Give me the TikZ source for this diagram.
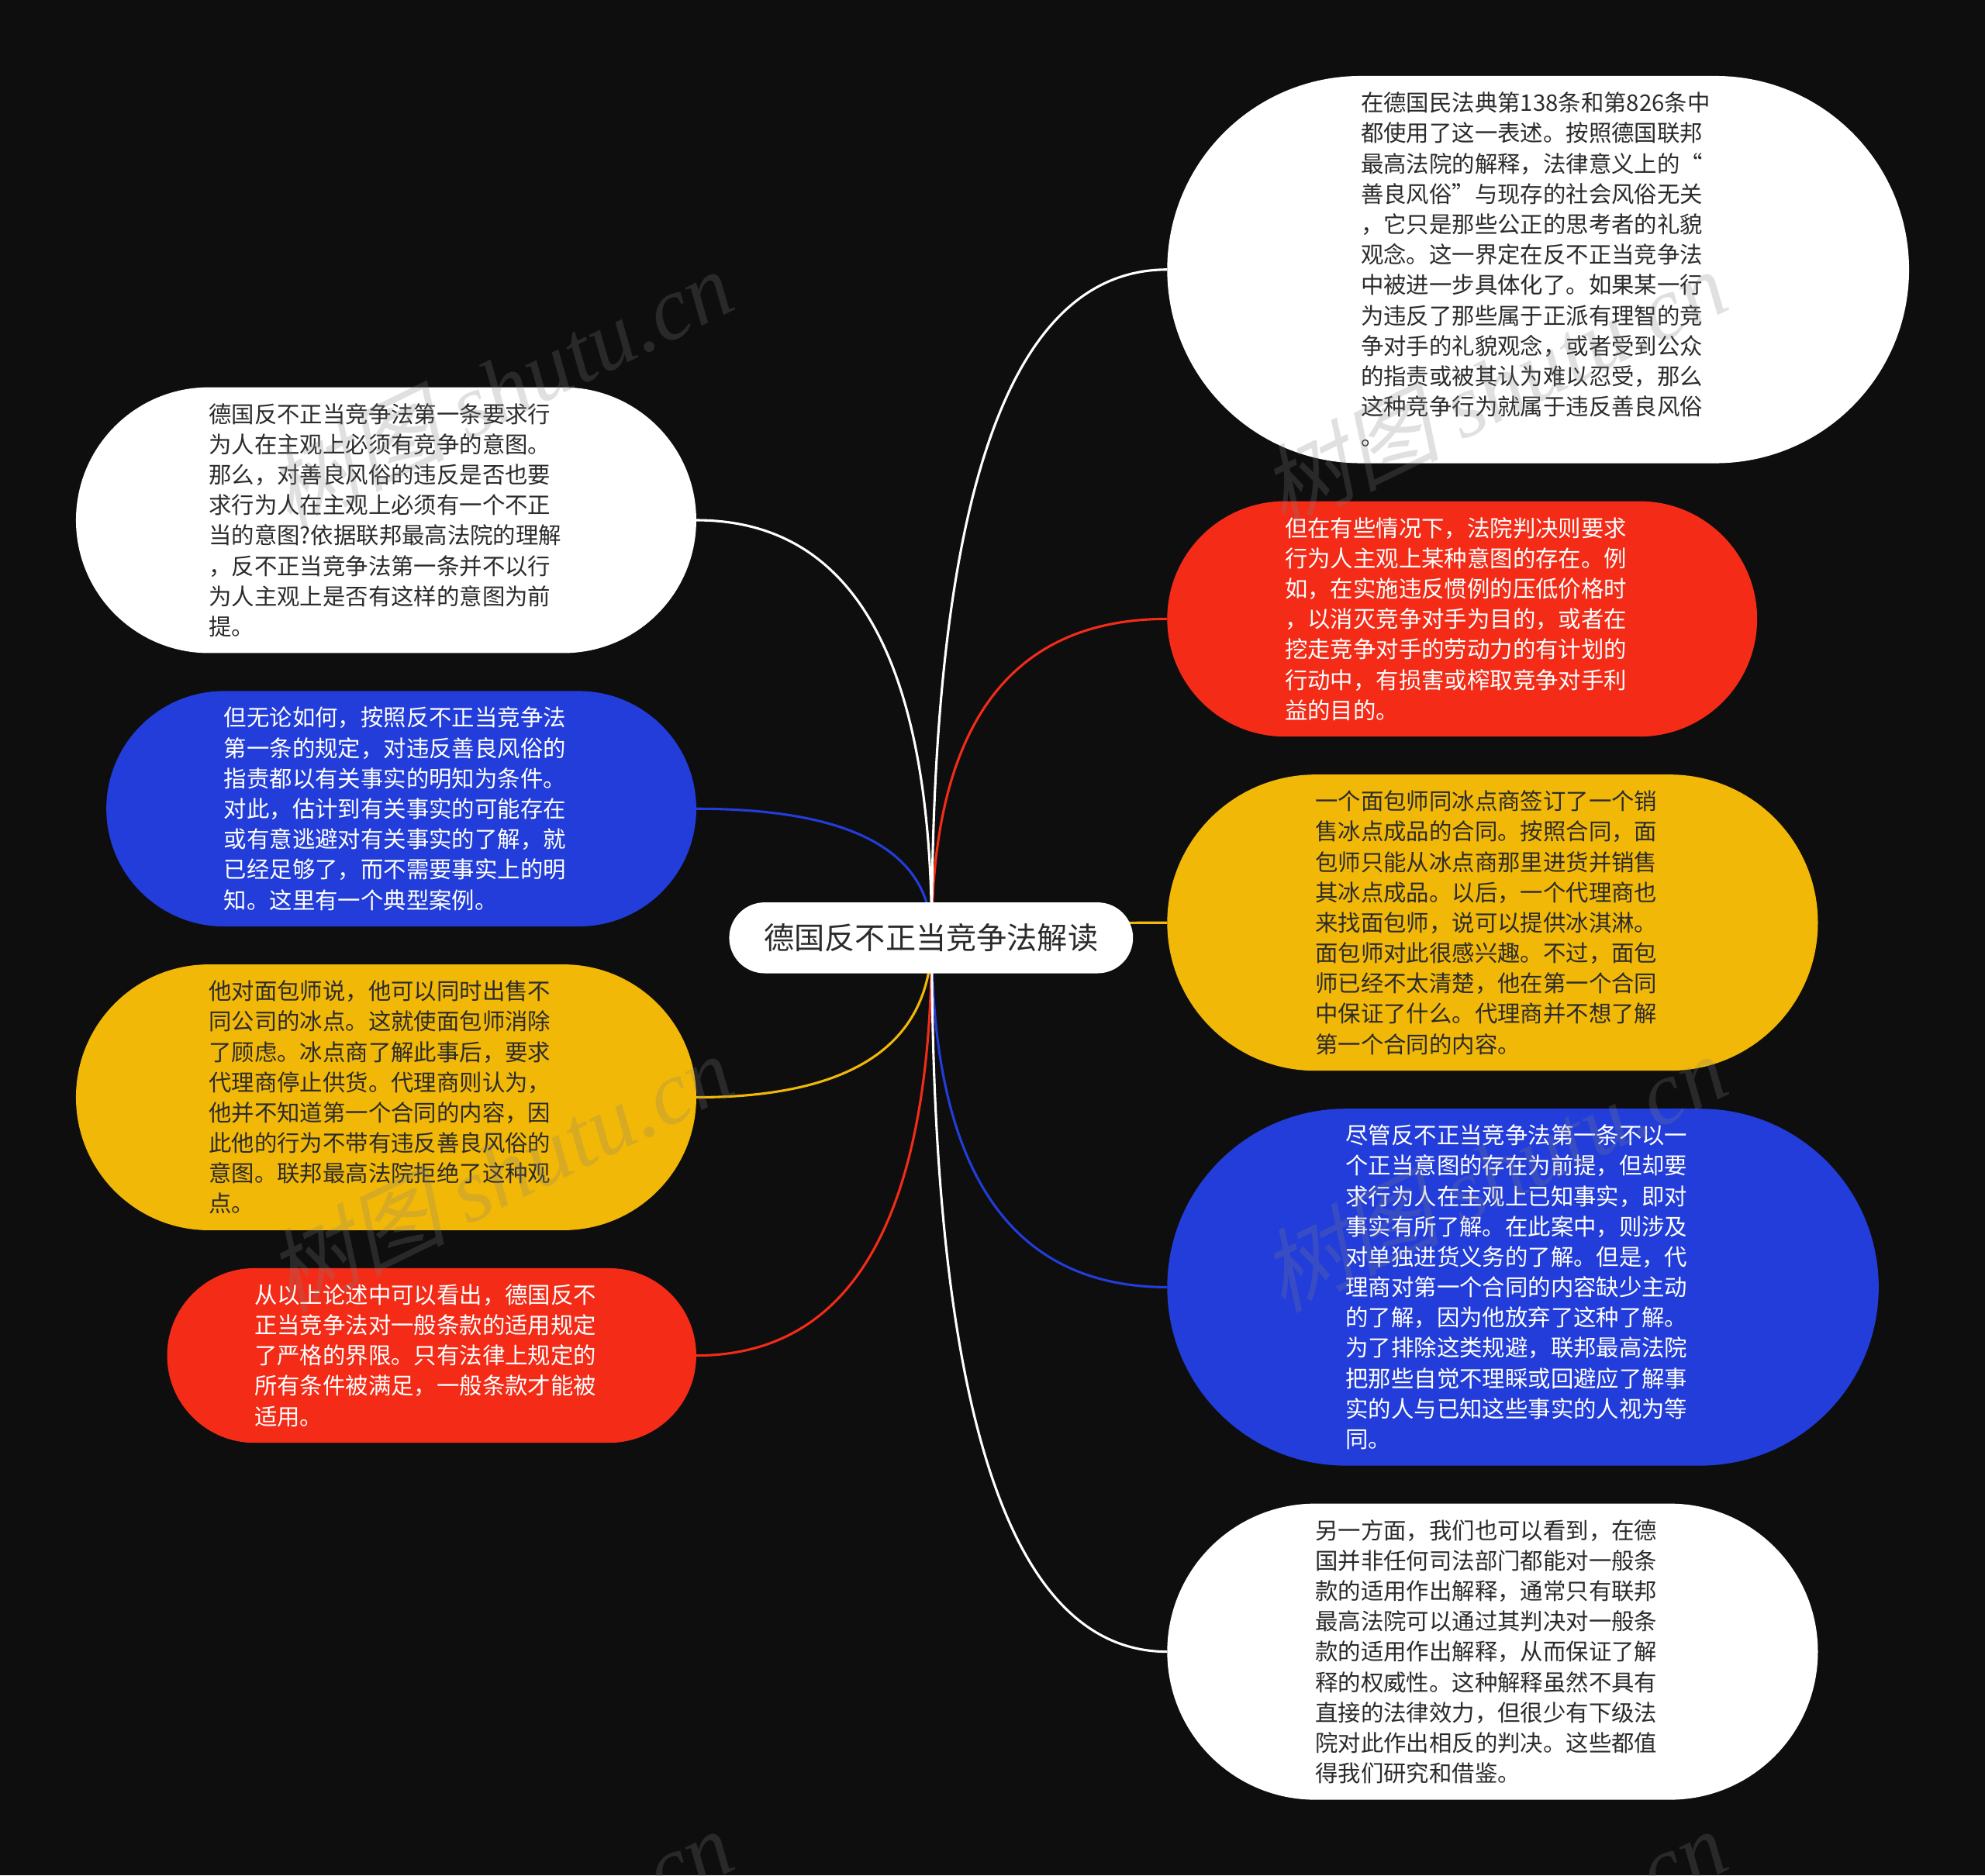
\documentclass[tikz,border=0pt]{standalone}
\usepackage{fontspec}
\setmainfont{Noto Sans CJK SC}
\newfontfamily\wmcjk[FakeSlant=0.25]{Noto Sans CJK SC}
\newfontfamily\wmlat{Liberation Serif}
\definecolor{bgc}{HTML}{0E0E0F}
\definecolor{redc}{HTML}{F32B17}
\definecolor{yelc}{HTML}{F2B807}
\definecolor{bluc}{HTML}{223DD9}
\definecolor{darkt}{HTML}{2B2B2B}
\begin{document}
\begin{tikzpicture}[x=1pt,y=-1pt,
  pill/.style n args={2}{shape=rectangle,inner sep=0pt,outer sep=0pt,align=left,
    minimum width=#1 pt,minimum height=#2 pt,text width={(#1-#2)*1pt},rounded corners={#2*0.5pt},
    font=\fontsize{18}{24}\selectfont},
  whitepill/.style={fill=white,text=darkt},
  redpill/.style={fill=redc,text=white},
  yelpill/.style={fill=yelc,text=darkt},
  blupill/.style={fill=bluc,text=white},
  link/.style={line width=1.9pt},
  wmark/.style={rotate=26,text=gray,text opacity=0.24,inner sep=0pt,font=\fontsize{71}{73}\selectfont}
]
\fill[bgc] (0,0) rectangle (1568,1481.66);
\useasboundingbox (0,0) rectangle (1568,1481.66);

\node[pill={586}{306},whitepill] (r1) at (1215,213) {在德国民法典第138条和第826条中\\都使用了这一表述。按照德国联邦\\最高法院的解释，法律意义上的“\\善良风俗”与现存的社会风俗无关\\，它只是那些公正的思考者的礼貌\\观念。这一界定在反不正当竞争法\\中被进一步具体化了。如果某一行\\为违反了那些属于正派有理智的竞\\争对手的礼貌观念，或者受到公众\\的指责或被其认为难以忍受，那么\\这种竞争行为就属于违反善良风俗\\。};
\node[pill={466}{186},redpill] (r2) at (1155,489) {但在有些情况下，法院判决则要求\\行为人主观上某种意图的存在。例\\如，在实施违反惯例的压低价格时\\，以消灭竞争对手为目的，或者在\\挖走竞争对手的劳动力的有计划的\\行动中，有损害或榨取竞争对手利\\益的目的。};
\node[pill={514}{234},yelpill] (r3) at (1179,729) {一个面包师同冰点商签订了一个销\\售冰点成品的合同。按照合同，面\\包师只能从冰点商那里进货并销售\\其冰点成品。以后，一个代理商也\\来找面包师，说可以提供冰淇淋。\\面包师对此很感兴趣。不过，面包\\师已经不太清楚，他在第一个合同\\中保证了什么。代理商并不想了解\\第一个合同的内容。};
\node[pill={562}{282},blupill] (r4) at (1203,1017) {尽管反不正当竞争法第一条不以一\\个正当意图的存在为前提，但却要\\求行为人在主观上已知事实，即对\\事实有所了解。在此案中，则涉及\\对单独进货义务的了解。但是，代\\理商对第一个合同的内容缺少主动\\的了解，因为他放弃了这种了解。\\为了排除这类规避，联邦最高法院\\把那些自觉不理睬或回避应了解事\\实的人与已知这些事实的人视为等\\同。};
\node[pill={514}{234},whitepill] (r5) at (1179,1305) {另一方面，我们也可以看到，在德\\国并非任何司法部门都能对一般条\\款的适用作出解释，通常只有联邦\\最高法院可以通过其判决对一般条\\款的适用作出解释，从而保证了解\\释的权威性。这种解释虽然不具有\\直接的法律效力，但很少有下级法\\院对此作出相反的判决。这些都值\\得我们研究和借鉴。};
\node[pill={490}{210},whitepill] (l1) at (305,411) {德国反不正当竞争法第一条要求行\\为人在主观上必须有竞争的意图。\\那么，对善良风俗的违反是否也要\\求行为人在主观上必须有一个不正\\当的意图?依据联邦最高法院的理解\\，反不正当竞争法第一条并不以行\\为人主观上是否有这样的意图为前\\提。};
\node[pill={466}{186},blupill] (l2) at (317,639) {但无论如何，按照反不正当竞争法\\第一条的规定，对违反善良风俗的\\指责都以有关事实的明知为条件。\\对此，估计到有关事实的可能存在\\或有意逃避对有关事实的了解，就\\已经足够了，而不需要事实上的明\\知。这里有一个典型案例。};
\node[pill={490}{210},yelpill] (l3) at (305,867) {他对面包师说，他可以同时出售不\\同公司的冰点。这就使面包师消除\\了顾虑。冰点商了解此事后，要求\\代理商停止供货。代理商则认为，\\他并不知道第一个合同的内容，因\\此他的行为不带有违反善良风俗的\\意图。联邦最高法院拒绝了这种观\\点。};
\node[pill={418}{138},redpill] (l4) at (341,1071) {从以上论述中可以看出，德国反不\\正当竞争法对一般条款的适用规定\\了严格的界限。只有法律上规定的\\所有条件被满足，一般条款才能被\\适用。};

\coordinate (hub) at (736,741);
\draw[link,bluc] (hub) .. controls (736,673) and (674,639) .. (l2.east);
\draw[link,redc] (hub) .. controls (736,573) and (798,489) .. (r2.west);
\draw[link,white] (hub) .. controls (736,521) and (674,411) .. (l1.east);
\draw[link,white] (hub) .. controls (736,389) and (798,213) .. (r1.west);
\draw[link,yelc] (hub) .. controls (736,733) and (798,729) .. (r3.west);
\draw[link,yelc] (hub) .. controls (736,825) and (674,867) .. (l3.east);
\draw[link,bluc] (hub) .. controls (736,925) and (798,1017) .. (r4.west);
\draw[link,redc] (hub) .. controls (736,961) and (674,1071) .. (l4.east);
\draw[link,white] (hub) .. controls (736,1117) and (798,1305) .. (r5.west);
\node[shape=rectangle,fill=white,text=darkt,inner sep=0pt,minimum width=319pt,minimum height=56pt,rounded corners=28pt,font=\fontsize{24}{28}\selectfont] (hubnode) at (735.5,741) {德国反不正当竞争法解读};

\node[wmark] (w1) at (394,306) {{\wmcjk 树图} {\wmlat\itshape shutu.cn}};
\node[wmark] (w2) at (1179,306) {{\wmcjk 树图} {\wmlat\itshape shutu.cn}};
\node[wmark] (w3) at (394,926) {{\wmcjk 树图} {\wmlat\itshape shutu.cn}};
\node[wmark] (w4) at (1179,926) {{\wmcjk 树图} {\wmlat\itshape shutu.cn}};
\node[wmark] (w5) at (394,1538) {{\wmcjk 树图} {\wmlat\itshape shutu.cn}};
\node[wmark] (w6) at (1179,1538) {{\wmcjk 树图} {\wmlat\itshape shutu.cn}};
\end{tikzpicture}
\end{document}
